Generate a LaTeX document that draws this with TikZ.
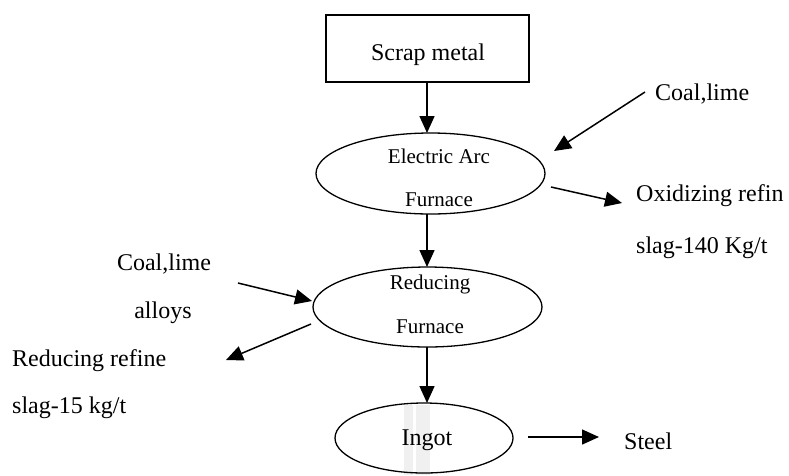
\documentclass[tikz,border=0pt]{standalone}
\usepackage{fontspec}
\setmainfont{Liberation Serif}
\usetikzlibrary{arrows.meta,shapes.geometric}
\begin{document}
\begin{tikzpicture}[x=1pt,y=-1pt,
  lbl/.style={inner sep=0pt,font=\fontsize{24}{28}\selectfont},
  inlbl/.style={inner sep=0pt,font=\fontsize{21}{25}\selectfont},
  oval/.style={draw,line width=1.3pt,ellipse,inner sep=0pt},
  flow/.style={line width=1.5pt,-{Triangle[length=17pt,width=15pt]}}]
\useasboundingbox (0,0) rectangle (789,475);
\fill[white] (0,0) rectangle (789,475);
% faint scan artifact behind Ingot
\fill[gray!12] (404,405) rectangle (430,475);
\fill[white] (413,405) rectangle (416,475);
% box
\node[draw,line width=1.3pt,minimum width=203pt,minimum height=67pt,inner sep=0pt] (scrap) at (427.5,48.5) {};
\node[lbl] (scraptxt) at (428,55) {Scrap metal};
% ellipses
\node[oval,minimum width=229pt,minimum height=81pt] (eaf) at (430.5,173.5) {};
\node[inlbl] (eaf1) at (439,156) {Electric Arc};
\node[inlbl] (eaf2) at (439,200) {Furnace};
\node[oval,minimum width=229pt,minimum height=80pt] (red) at (427.5,307) {};
\node[inlbl] (red1) at (430,284) {Reducing};
\node[inlbl] (red2) at (430,327) {Furnace};
\node[oval,minimum width=178pt,minimum height=70pt] (ingot) at (424,438) {};
\node[lbl] (ingottxt) at (427,440) {Ingot};
% labels
\node[lbl,anchor=west] (coal1) at (655,94) {Coal,lime};
\node[lbl,anchor=west] (oxi) at (636,196) {Oxidizing refin};
\node[lbl,anchor=west] (oxi2) at (636,248) {slag-140 Kg/t};
\node[lbl] (coal2) at (164,264) {Coal,lime};
\node[lbl] (alloys) at (163,313) {alloys};
\node[lbl,anchor=west] (redref) at (12,361) {Reducing refine};
\node[lbl,anchor=west] (redref2) at (12,408) {slag-15 kg/t};
\node[lbl,anchor=west] (steel) at (624,441) {Steel};
% connector end points
\coordinate (v1s) at (427,82);
\coordinate (v1e) at (427,133);
\coordinate (v2s) at (427,214);
\coordinate (v2e) at (427,267);
\coordinate (v3s) at (427,347);
\coordinate (v3e) at (427,403);
\coordinate (c1s) at (645,92);
\coordinate (c1e) at (554,151);
\coordinate (oxs) at (551,187);
\coordinate (oxe) at (622,203);
\coordinate (c2s) at (238,283);
\coordinate (c2e) at (312,301);
\coordinate (rrs) at (311,324);
\coordinate (rre) at (226,360);
\coordinate (sts) at (528,437);
\coordinate (ste) at (599,437);
% vertical flow
\draw[flow] (v1s) -- (v1e);
\draw[flow] (v2s) -- (v2e);
\draw[flow] (v3s) -- (v3e);
% side arrows
\draw[flow] (c1s) -- (c1e);
\draw[flow] (oxs) -- (oxe);
\draw[flow] (c2s) -- (c2e);
\draw[flow] (rrs) -- (rre);
\draw[flow] (sts) -- (ste);
\end{tikzpicture}
\end{document}
